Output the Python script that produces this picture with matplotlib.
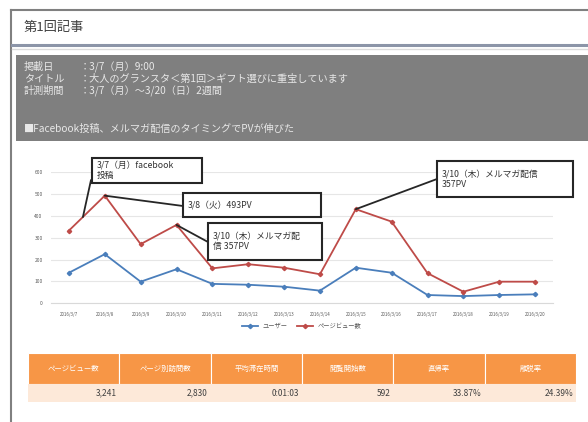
import matplotlib
matplotlib.use("Agg")
import matplotlib.pyplot as plt
from matplotlib.patches import Rectangle, ConnectionPatch
from matplotlib.lines import Line2D

plt.rcParams['font.family'] = ['Noto Sans CJK JP', 'DejaVu Sans']

# ---- data ----
dates = ["2016/3/7", "2016/3/8", "2016/3/9", "2016/3/10", "2016/3/11", "2016/3/12", "2016/3/13",
         "2016/3/14", "2016/3/15", "2016/3/16", "2016/3/17", "2016/3/18", "2016/3/19", "2016/3/20"]
users = [140, 225, 99, 156, 89, 85, 76, 58, 163, 140, 38, 33, 38, 41]
pageviews = [333, 493, 271, 359, 160, 179, 163, 133, 431, 374, 138, 53, 99, 99]
series_names = ["ユーザー", "ページビュー数"]
yticks = [0, 100, 200, 300, 400, 500, 600]

table_headers = ["ページビュー数", "ページ別訪問数", "平均滞在時間", "閲覧開始数", "直帰率", "離脱率"]
table_values = ["3,241", "2,830", "0:01:03", "592", "33.87%", "24.39%"]

title = "第1回記事"
info_labels = ["掲載日", "タイトル", "計測期間"]
info_values = ["：3/7（月）9:00", "：大人のグランスタ＜第1回＞ギフト選びに重宝しています", "：3/7（月）～3/20（日）2週間"]
summary = "■Facebook投稿、メルマガ配信のタイミングでPVが伸びた"

callout_texts = ["3/7（月）facebook\n投稿", "3/8（火）493PV", "3/10（木）メルマガ配\n信 357PV",
                 "3/10（木）メルマガ配信\n357PV"]

W, H = 588, 422
fig = plt.figure(figsize=(W / 100, H / 100), dpi=100)

def fx(x):
    return x / W

def fy(y):
    return 1 - y / H

# frame
fig.add_artist(Line2D([fx(11), fx(588)], [fy(10), fy(10)], color="#808080", lw=1.5))
fig.add_artist(Line2D([fx(11), fx(11)], [fy(10), fy(422)], color="#808080", lw=1.5))
fig.text(fx(24), fy(27), title, fontsize=9.5, color="#404040", va="center", ha="left")
fig.add_artist(Line2D([fx(12), fx(588)], [fy(45), fy(45)], color="#8c95a8", lw=2.2))
fig.add_artist(Line2D([fx(12), fx(588)], [fy(49), fy(49)], color="#dcdcdc", lw=1))

# gray info box
fig.add_artist(Rectangle((fx(16), fy(141)), fx(588 - 16), (141 - 55) / H,
                         facecolor="#7f7f7f", edgecolor="none", transform=fig.transFigure))
for i, (lab, val) in enumerate(zip(info_labels, info_values)):
    yy = [67, 79, 91][i]
    fig.text(fx(24), fy(yy), lab, fontsize=7.3, color="#e8e8e8", va="center", ha="left")
    fig.text(fx(80), fy(yy), val, fontsize=7.3, color="#e8e8e8", va="center", ha="left")
fig.text(fx(24), fy(129), summary, fontsize=7.3, color="#e8e8e8", va="center", ha="left")

# chart
ax = fig.add_axes([fx(51), fy(303.3), fx(553 - 51), (303.3 - 172.3) / H])
x = list(range(len(dates)))
ax.plot(x, users, color="#4a7ebb", lw=1.3, marker="D", ms=2.2, label=series_names[0])
ax.plot(x, pageviews, color="#be4b48", lw=1.3, marker="D", ms=2.2, label=series_names[1])
ax.set_xlim(-0.5, len(dates) - 0.5)
ax.set_ylim(0, 600)
ax.set_yticks(yticks)
ax.set_yticklabels([str(v) for v in yticks], fontsize=3.5, color="#595959")
ax.set_xticks(x)
ax.set_xticklabels(dates, fontsize=3.2, color="#595959")
ax.tick_params(length=0, pad=6)
ax.grid(axis="y", color="#e6e6e6", lw=0.8)
ax.set_axisbelow(True)
for s in ["top", "right", "left"]:
    ax.spines[s].set_visible(False)
ax.spines["bottom"].set_color("#d9d9d9")
ax.patch.set_alpha(0)

ax.legend(loc="upper center", bbox_to_anchor=(0.5, -0.1), ncol=2, frameon=False,
          fontsize=4.5, labelcolor="#595959", handlelength=2.5, columnspacing=1.5)

# callout boxes: (box left, top, right, bottom in px), leader attach point (px), data anchor
boxes = [((92, 158, 202, 183), (91, 180), (0.39, 395)),
         ((183, 193, 321, 217), (183, 206), (1, pageviews[1])),
         ((208, 223, 322, 260), (208, 242), (3, pageviews[3])),
         ((437, 161, 573, 197), (437, 179), (8, pageviews[8]))]
for txt, ((l, t, r, b), (px, py), xy) in zip(callout_texts, boxes):
    con = ConnectionPatch(xyA=xy, coordsA=ax.transData, xyB=(fx(px), fy(py)),
                          coordsB=fig.transFigure, color="#262626", lw=1.3)
    fig.add_artist(con)
    fig.add_artist(Rectangle((fx(l), fy(b)), fx(r - l), (b - t) / H, facecolor="white",
                             edgecolor="#262626", lw=1.5, transform=fig.transFigure, zorder=5))
    fig.text(fx(l + 5), fy((t + b) / 2), txt, fontsize=6.3, color="#333333", ha="left", va="center",
             linespacing=1.2, zorder=6)

# table
col_edges = [28 + i * (576 - 28) / 6 for i in range(7)]
for i, (h, v) in enumerate(zip(table_headers, table_values)):
    x0, x1 = col_edges[i], col_edges[i + 1]
    fig.add_artist(Rectangle((fx(x0), fy(384)), fx(x1 - x0), (384 - 353) / H,
                             facecolor="#f79646", edgecolor="white", lw=0.8, transform=fig.transFigure))
    fig.add_artist(Rectangle((fx(x0), fy(402)), fx(x1 - x0), (402 - 384) / H,
                             facecolor="#fde9d9", edgecolor="none", transform=fig.transFigure))
    fig.text(fx((x0 + x1) / 2), fy(369), h, fontsize=5.3, color="white", ha="center", va="center")
    fig.text(fx(x1 - 3), fy(393), v, fontsize=6, color="#404040", ha="right", va="center")

fig.savefig("out.png", dpi=100)
